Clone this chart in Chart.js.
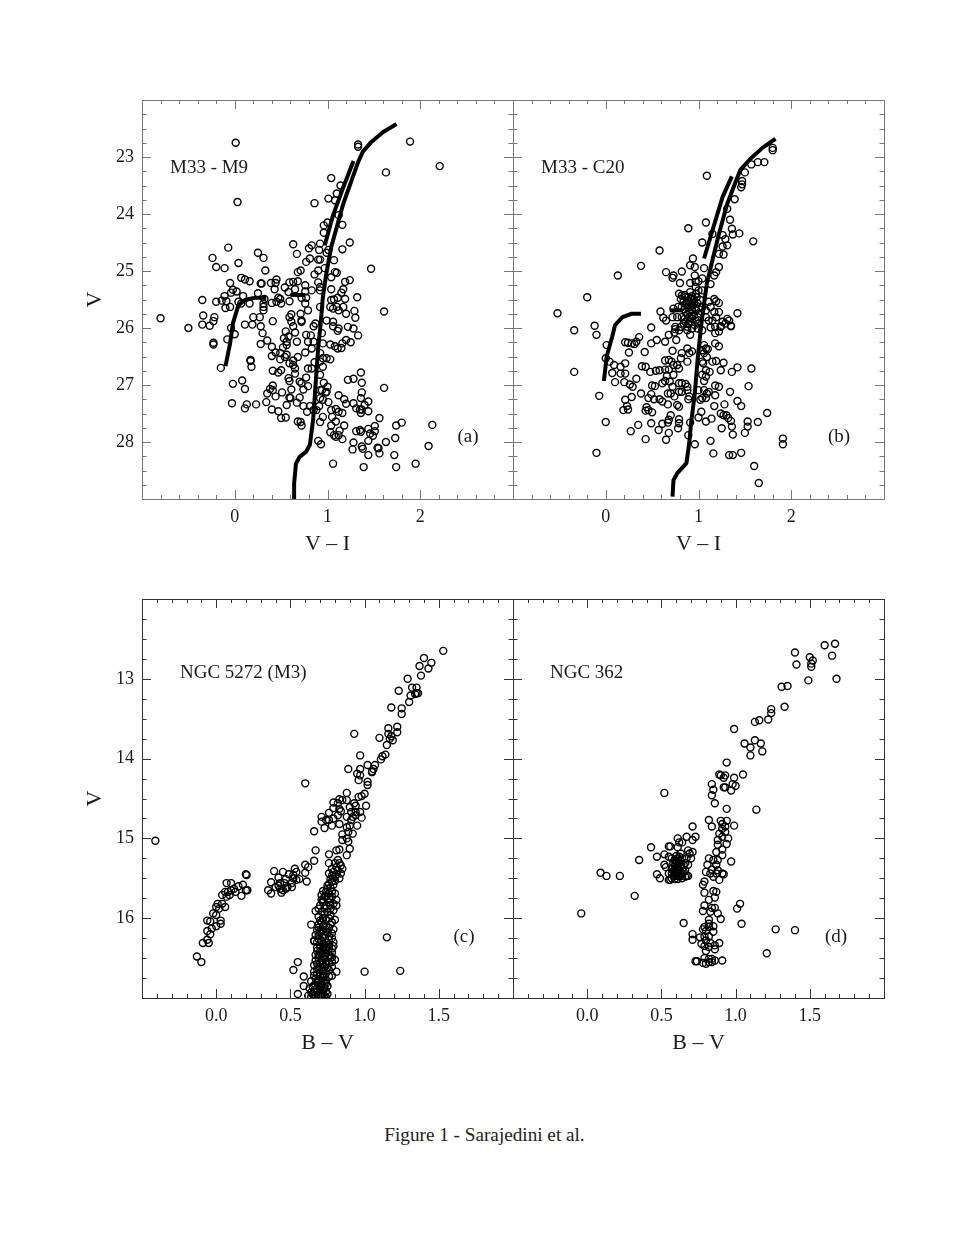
<!DOCTYPE html>
<html lang="en">
<head>
  <meta charset="UTF-8">
  <title>Figure 1 - Sarajedini et al.</title>
  <script src="https://cdn.jsdelivr.net/npm/chart.js"></script>
  <style>
    body { margin: 0; background: #fff; width: 969px; height: 1254px; position: relative; overflow: hidden; }
    canvas { position: absolute; }
    #caption {
      position: absolute; left: 0; width: 969px; top: 1124px; text-align: center;
      font: 19.2px "Liberation Serif", serif; color: #222;
    }
  </style>
</head>
<body>
  <canvas id="panelA" width="444" height="467" style="left:70px;top:90px"></canvas>
  <canvas id="panelB" width="382" height="467" style="left:503px;top:90px"></canvas>
  <canvas id="panelC" width="444" height="467" style="left:70px;top:589px"></canvas>
  <canvas id="panelD" width="382" height="467" style="left:503px;top:589px"></canvas>
  <div id="caption">Figure 1 - Sarajedini et al.</div>

  <script>
    // tick labels
    const xTicksVI = [0, 1, 2];
    const yTicksM33 = [23, 24, 25, 26, 27, 28];
    const xTicksBV = [0, 0.5, 1, 1.5];
    const yTicksGlob = [13, 14, 15, 16];

    // isochrone pieces, [colour, magnitude]
    const m9Rgb = [[1.745,22.42],[1.60,22.56],[1.47,22.74],[1.38,22.91],[1.33,23.09],[1.26,23.41],[1.17,23.82],[1.10,24.23],[1.04,24.58],[0.99,25.02],[0.95,25.46],[0.925,25.95],[0.90,26.33],[0.87,27.03],[0.845,27.61],[0.81,28.05],[0.77,28.17],[0.70,28.26],[0.66,28.38],[0.64,28.73],[0.64,29.0]];
    const m9Agb = [[1.28,23.07],[1.17,23.53],[1.06,24.02],[0.97,24.55]];
    const m9Hb = [[0.34,25.47],[0.22,25.47],[0.11,25.51],[0.04,25.60],[-0.02,25.92],[-0.05,26.27],[-0.10,26.67]];
    const m9Rhb = [[0.60,25.42],[0.76,25.42]];

    const c20Rgb = [[1.83,22.68],[1.69,22.84],[1.56,23.03],[1.45,23.23],[1.40,23.44],[1.31,23.82],[1.22,24.35],[1.15,24.81],[1.09,25.22],[1.04,25.81],[1.02,26.09],[0.99,26.56],[0.96,27.15],[0.92,27.67],[0.90,28.02],[0.87,28.37],[0.77,28.55],[0.73,28.67],[0.72,28.96]];
    const c20Agb = [[1.36,23.34],[1.26,23.70],[1.15,24.29],[1.06,24.78]];
    const c20Hb = [[0.38,25.75],[0.28,25.75],[0.18,25.81],[0.10,25.95],[0.07,26.15],[0.01,26.50],[-0.02,26.93]];
    const c20Rhb = [[0.69,25.69],[0.83,25.69]];

    // stars, [colour, magnitude]
    const m9Stars = [
      [0.01,22.75],[1.33,22.78],[1.33,22.82],[1.89,22.73],[2.21,23.16],[1.63,23.27],[1.04,23.37],[1.14,23.50],[1.10,23.64],[1.01,23.73],
      [1.08,23.76],[0.86,23.81],[0.03,23.79],[0.96,24.20],[1.00,24.15],[1.16,24.19],[0.96,24.33],[1.12,24.02],[1.24,24.50],[0.63,24.53],
      [0.83,24.55],[0.80,24.60],[0.92,24.52],[0.91,24.63],[1.01,24.63],[0.99,24.68],[1.16,24.62],[-0.07,24.59],[0.25,24.68],[0.31,24.77],
      [-0.24,24.77],[-0.20,24.93],[-0.11,24.95],[0.04,24.86],[0.67,24.70],[0.81,24.78],[0.77,24.84],[0.90,24.80],[0.92,24.80],[1.07,24.81],
      [0.97,24.95],[1.47,24.96],[0.33,24.99],[0.71,24.99],[0.68,25.02],[0.90,24.99],[0.86,25.06],[1.08,25.02],[1.10,25.03],[0.07,25.12],
      [0.11,25.15],[0.16,25.18],[-0.05,25.21],[0.29,25.22],[0.28,25.22],[0.39,25.21],[0.45,25.15],[0.44,25.21],[0.43,25.32],[0.54,25.29],
      [0.59,25.20],[0.63,25.19],[0.68,25.18],[0.65,25.32],[0.76,25.25],[0.90,25.20],[1.04,25.11],[1.19,25.19],[1.24,25.16],[1.17,25.32],
      [1.04,25.32],[0.92,25.28],[0.92,25.34],[0.83,25.34],[0.76,25.36],[0.58,25.37],[1.15,25.38],[1.11,25.47],[1.19,25.49],[1.32,25.46],
      [-0.02,25.33],[0.02,25.36],[-0.04,25.38],[-0.11,25.44],[0.09,25.44],[0.25,25.39],[-0.09,25.53],[-0.20,25.54],[-0.14,25.52],[-0.35,25.51],
      [-0.05,25.63],[-0.10,25.65],[0.04,25.54],[0.07,25.57],[0.16,25.57],[0.32,25.49],[0.31,25.57],[0.31,25.63],[0.31,25.69],[0.40,25.56],
      [0.45,25.54],[0.47,25.47],[0.50,25.57],[0.49,25.49],[0.59,25.53],[0.72,25.47],[0.77,25.47],[0.76,25.57],[0.79,25.69],[0.92,25.63],
      [1.04,25.51],[1.07,25.50],[1.03,25.63],[1.06,25.66],[1.10,25.63],[1.12,25.69],[1.17,25.63],[1.20,25.75],[1.29,25.70],[1.30,25.82],
      [1.61,25.71],[-0.34,25.78],[-0.22,25.81],[-0.23,25.88],[-0.27,25.96],[-0.35,25.94],[-0.80,25.83],[-0.50,26.00],[0.11,25.94],[0.19,25.94],
      [0.28,25.97],[0.20,25.81],[0.27,25.81],[0.41,25.88],[0.59,25.81],[0.61,25.76],[0.61,25.89],[0.63,25.97],[0.71,25.75],[0.72,25.89],
      [0.72,25.87],[0.85,25.97],[0.87,25.92],[0.99,25.87],[1.06,25.89],[1.06,25.97],[1.12,26.01],[1.22,25.98],[1.28,26.01],[-0.04,26.00],
      [0.00,26.11],[-0.08,26.20],[0.30,26.09],[-0.23,26.26],[-0.23,26.29],[0.28,26.28],[0.35,26.22],[0.40,26.33],[0.44,26.43],[0.40,26.49],
      [0.49,26.44],[0.56,26.47],[0.54,26.51],[0.49,26.55],[0.55,26.06],[0.53,26.18],[0.58,26.15],[0.56,26.24],[0.56,26.30],[0.52,26.34],
      [0.65,26.08],[0.67,26.24],[0.77,26.12],[0.82,26.13],[0.79,26.24],[0.85,26.24],[0.83,26.36],[0.76,26.43],[0.95,26.27],[1.03,26.29],
      [1.08,26.32],[1.11,26.36],[1.15,26.35],[1.16,26.27],[1.20,26.21],[1.25,26.25],[1.33,26.13],[1.11,26.05],[0.94,26.09],[0.92,26.44],
      [0.95,26.53],[0.99,26.53],[1.03,26.55],[0.68,26.51],[0.63,26.57],[0.59,26.62],[0.63,26.65],[0.41,26.75],[0.47,26.78],[0.50,26.74],
      [0.17,26.56],[0.17,26.58],[0.18,26.68],[-0.15,26.70],[0.65,26.71],[0.79,26.71],[0.83,26.71],[0.86,26.60],[0.92,26.59],[0.95,26.68],
      [0.92,26.82],[0.65,26.80],[0.77,26.87],[0.58,26.88],[0.59,26.93],[0.70,26.94],[0.72,26.97],[0.79,27.02],[0.96,26.96],[1.00,27.03],
      [1.36,26.78],[1.22,26.91],[1.28,26.89],[1.37,26.96],[1.61,27.05],[0.08,26.92],[-0.02,26.98],[0.11,27.07],[0.41,27.01],[0.38,27.07],
      [0.41,27.09],[0.35,27.15],[0.44,27.20],[0.51,27.13],[0.61,27.08],[0.74,27.08],[0.59,27.22],[0.60,27.23],[0.70,27.22],[0.67,27.31],
      [0.92,27.09],[0.94,27.09],[0.98,27.13],[0.99,27.12],[0.92,27.23],[0.95,27.26],[1.01,27.30],[1.12,27.18],[1.18,27.25],[1.20,27.33],
      [1.28,27.32],[1.37,27.13],[1.36,27.23],[1.44,27.29],[-0.03,27.32],[0.13,27.34],[0.11,27.41],[0.23,27.34],[0.34,27.30],[0.40,27.43],
      [0.47,27.46],[0.50,27.58],[0.55,27.57],[0.56,27.35],[0.74,27.37],[0.78,27.47],[0.81,27.37],[0.85,27.44],[0.88,27.44],[0.91,27.37],
      [1.04,27.44],[1.09,27.42],[1.12,27.47],[1.16,27.49],[1.31,27.41],[1.35,27.43],[1.37,27.43],[1.40,27.35],[1.36,27.49],[1.44,27.46],
      [1.05,27.56],[0.95,27.56],[0.68,27.64],[0.71,27.65],[0.72,27.71],[0.92,27.65],[1.09,27.64],[1.04,27.71],[1.18,27.71],[1.13,27.80],
      [1.03,27.83],[1.07,27.88],[1.09,27.91],[1.12,27.88],[1.16,27.95],[1.31,27.81],[1.35,27.79],[1.36,27.82],[1.56,27.58],[1.51,27.72],
      [1.74,27.71],[1.80,27.66],[2.13,27.70],[1.44,27.77],[1.46,27.85],[1.51,27.81],[1.49,27.89],[1.73,27.93],[1.63,28.00],[1.44,27.98],
      [1.28,28.01],[0.90,27.98],[0.93,28.04],[1.37,28.08],[1.38,28.12],[1.27,28.13],[1.54,28.10],[1.55,28.11],[1.56,28.20],[1.44,28.23],
      [1.72,28.23],[2.09,28.07],[1.06,28.38],[1.39,28.44],[1.74,28.44],[1.95,28.38]
    ];

    const c20Stars = [
      [1.09,23.33],[1.80,22.84],[1.80,22.88],[1.71,23.09],[1.64,23.09],[1.57,23.13],[1.50,23.27],[1.47,23.42],[1.47,23.48],[1.46,23.53],
      [1.39,23.74],[1.31,23.91],[1.34,24.10],[1.08,24.15],[1.36,24.26],[1.44,24.34],[1.37,24.36],[0.89,24.25],[1.26,24.37],[1.29,24.44],
      [1.31,24.55],[1.26,24.57],[1.27,24.71],[1.22,24.70],[1.59,24.48],[1.04,24.50],[1.15,24.35],[0.58,24.64],[0.38,24.91],[0.13,25.08],
      [-0.20,25.46],[-0.52,25.74],[0.94,24.78],[0.91,24.90],[0.96,24.93],[1.06,24.95],[1.22,24.93],[1.19,25.02],[1.17,25.08],[0.82,25.01],
      [0.65,25.02],[0.73,25.08],[0.72,25.12],[0.80,25.21],[0.96,25.08],[0.91,25.21],[0.97,25.19],[1.00,25.18],[1.04,25.13],[1.13,25.23],
      [0.79,25.40],[0.82,25.43],[0.86,25.46],[0.81,25.49],[0.89,25.46],[0.84,25.53],[0.90,25.54],[0.93,25.49],[0.97,25.40],[1.00,25.34],
      [0.97,25.28],[0.91,25.37],[1.04,25.34],[0.88,25.63],[0.91,25.63],[0.95,25.57],[0.99,25.57],[1.02,25.51],[0.82,25.63],[0.78,25.63],
      [0.73,25.66],[0.86,25.72],[0.91,25.72],[0.97,25.69],[1.00,25.66],[1.04,25.63],[0.90,25.81],[0.95,25.78],[0.99,25.81],[1.02,25.75],
      [0.82,25.81],[0.77,25.81],[0.72,25.81],[0.86,25.89],[0.91,25.89],[0.97,25.87],[1.00,25.92],[0.81,25.98],[0.75,25.98],[0.88,25.98],
      [0.93,26.01],[0.99,26.01],[1.04,26.04],[1.17,25.49],[1.19,25.53],[1.22,25.56],[1.11,25.54],[1.13,25.63],[1.08,25.69],[1.17,25.72],
      [1.22,25.72],[1.15,25.87],[1.11,25.87],[1.19,25.81],[1.26,25.89],[1.31,25.84],[1.42,25.74],[1.33,25.87],[1.35,25.97],[1.24,25.98],
      [1.18,25.98],[1.13,25.99],[1.08,25.81],[0.59,25.71],[0.62,25.82],[0.65,25.87],[0.49,25.99],[-0.34,26.04],[-0.12,25.96],[-0.10,26.12],
      [0.36,26.16],[0.33,26.24],[0.31,26.28],[0.28,26.27],[0.24,26.26],[0.21,26.25],[0.25,26.43],[0.42,26.42],[0.49,26.27],[0.55,26.21],
      [0.64,26.24],[0.68,26.12],[0.74,26.08],[0.76,26.21],[0.75,26.02],[0.79,26.04],[0.88,26.04],[0.91,26.12],[0.72,26.40],[0.82,26.44],
      [0.88,26.36],[0.90,26.44],[0.81,26.53],[0.88,26.59],[0.93,26.41],[1.06,26.30],[1.08,26.36],[1.04,26.39],[1.10,26.37],[1.06,26.44],
      [1.09,26.51],[1.04,26.59],[1.18,26.27],[1.22,26.32],[1.18,26.09],[1.22,26.06],[1.24,25.97],[1.35,25.96],[1.29,25.92],[1.15,26.59],
      [1.19,26.58],[1.27,26.61],[1.12,26.77],[1.24,26.74],[1.36,26.77],[1.42,26.69],[1.57,26.71],[1.05,26.62],[1.08,26.74],[1.04,26.82],
      [1.06,26.93],[1.08,26.85],[0.64,26.57],[0.68,26.56],[0.71,26.59],[0.73,26.65],[0.77,26.65],[0.79,26.71],[0.39,26.67],[0.43,26.68],
      [0.48,26.77],[0.54,26.75],[0.58,26.74],[0.64,26.73],[0.68,26.73],[0.73,26.82],[0.66,26.84],[0.21,26.62],[0.16,26.68],[0.09,26.65],
      [-0.34,26.77],[0.01,26.30],[0.00,26.53],[0.04,26.59],[0.07,26.79],[0.16,26.80],[0.21,26.80],[0.10,26.95],[0.20,26.95],[0.26,26.99],
      [0.29,27.03],[0.33,26.89],[-0.07,27.19],[0.00,27.65],[-0.10,28.19],[0.38,27.15],[0.28,27.21],[0.21,27.26],[0.50,27.01],[0.53,27.02],
      [0.61,26.97],[0.64,26.93],[0.69,26.94],[0.72,27.03],[0.79,26.97],[0.82,26.97],[0.86,26.98],[0.88,27.03],[0.82,27.12],[0.79,27.12],
      [0.70,27.15],[0.74,27.20],[0.88,27.09],[0.67,27.15],[0.49,27.16],[0.46,27.23],[0.52,27.25],[0.58,27.25],[0.61,27.29],[0.67,27.34],
      [0.77,27.35],[0.79,27.38],[0.90,27.20],[0.89,27.25],[1.00,27.09],[1.06,27.09],[1.09,27.15],[1.04,27.23],[1.08,27.23],[1.02,27.26],
      [1.11,27.12],[1.18,27.18],[1.18,27.01],[1.22,27.03],[1.34,27.12],[1.54,27.02],[1.42,27.28],[1.46,27.37],[1.28,27.34],[1.17,27.37],
      [1.24,27.50],[1.27,27.53],[1.30,27.53],[1.32,27.58],[1.35,27.63],[1.74,27.49],[1.64,27.65],[1.53,27.64],[1.53,27.73],[1.36,27.73],
      [1.37,27.87],[1.50,27.84],[1.25,27.76],[1.03,27.47],[1.00,27.57],[1.08,27.64],[1.14,27.59],[0.23,27.37],[0.24,27.43],[0.19,27.44],
      [0.44,27.39],[0.43,27.45],[0.46,27.44],[0.50,27.48],[0.70,27.53],[0.68,27.61],[0.67,27.66],[0.79,27.60],[0.79,27.67],[0.78,27.76],
      [0.91,27.66],[0.89,27.88],[0.49,27.67],[0.35,27.70],[0.27,27.81],[0.43,27.95],[0.61,27.68],[0.57,27.79],[0.68,27.84],[0.65,27.96],
      [0.96,28.04],[1.13,27.98],[1.16,28.20],[1.33,28.23],[1.37,28.23],[1.46,28.19],[1.91,27.94],[1.91,28.04],[1.60,28.42],[1.65,28.72],
      [0.85,25.42],[0.93,25.44],[0.88,25.52],[0.95,25.50],[0.87,25.58],[0.93,25.60],[0.85,25.67],[0.93,25.68],[0.88,25.76],[0.93,25.79],
      [0.85,25.84],[0.93,25.84],[0.89,25.93],[0.96,25.95],[0.84,25.92],[0.93,25.56],[0.98,25.46],[0.96,25.64]
    ];

    const m3Stars = [
      [1.53,12.65],[1.40,12.74],[1.45,12.80],[1.37,12.84],[1.43,12.87],[1.38,12.96],[1.29,13.00],[1.23,13.15],[1.32,13.11],[1.35,13.11],
      [1.31,13.21],[1.34,13.19],[1.35,13.18],[1.36,13.18],[1.30,13.29],[1.18,13.36],[1.25,13.37],[1.25,13.44],[1.22,13.60],[1.22,13.67],
      [1.16,13.62],[1.16,13.69],[1.18,13.72],[1.17,13.75],[1.19,13.77],[1.10,13.74],[1.15,13.83],[0.93,13.69],[1.14,13.95],[1.12,13.97],
      [1.11,14.01],[0.97,13.96],[1.02,14.08],[1.07,14.08],[1.06,14.13],[1.05,14.17],[1.05,14.16],[0.89,14.13],[0.97,14.13],[0.95,14.19],
      [0.97,14.21],[0.96,14.27],[1.02,14.29],[1.02,14.33],[0.60,14.31],[1.00,14.44],[0.98,14.47],[0.96,14.48],[0.88,14.43],[0.83,14.51],
      [0.85,14.52],[0.88,14.52],[0.79,14.55],[0.79,14.62],[0.82,14.56],[0.83,14.63],[0.84,14.66],[0.90,14.61],[0.93,14.56],[0.94,14.59],
      [0.91,14.67],[0.94,14.67],[0.97,14.67],[1.01,14.59],[0.76,14.68],[0.82,14.71],[0.88,14.73],[0.92,14.73],[0.94,14.71],[0.98,14.74],
      [0.71,14.73],[0.71,14.79],[0.74,14.77],[0.76,14.77],[0.79,14.75],[0.73,14.87],[0.78,14.84],[0.83,14.82],[0.88,14.86],[0.91,14.77],
      [0.95,14.84],[0.90,14.84],[0.66,14.91],[0.92,14.94],[0.89,14.92],[0.85,14.95],[0.88,15.00],[0.85,15.02],[0.89,15.04],[0.90,15.13],
      [0.88,15.21],[0.83,15.14],[0.81,15.15],[-0.41,15.03],[0.67,15.15],[0.66,15.28],[0.76,15.20],[0.76,15.31],[0.60,15.33],[0.62,15.36],
      [0.60,15.43],[0.61,15.54],[0.80,15.31],[0.83,15.31],[0.85,15.38],[0.82,15.40],[0.79,15.42],[0.76,15.44],[0.80,15.48],[0.83,15.50],
      [0.78,15.54],[0.75,15.59],[0.74,15.67],[0.78,15.67],[0.80,15.69],[0.73,15.73],[0.76,15.75],[0.81,15.77],[0.79,15.82],[0.71,15.77],
      [0.70,15.84],[0.74,15.84],[0.81,15.84],[0.67,15.91],[0.71,15.92],[0.75,15.92],[0.79,15.90],[0.72,16.00],[0.76,16.00],[0.80,16.02],
      [0.71,16.05],[0.74,16.09],[0.64,16.08],[0.79,16.14],[0.74,16.17],[0.70,16.19],[0.67,16.21],[0.73,16.21],[0.76,16.23],[0.71,16.28],
      [0.66,16.28],[0.66,16.29],[0.74,16.30],[0.79,16.30],[0.70,16.36],[0.74,16.36],[0.78,16.38],[0.67,16.46],[0.71,16.44],[0.74,16.44],
      [0.80,16.52],[0.78,16.49],[0.67,16.53],[0.71,16.53],[0.74,16.55],[0.66,16.59],[0.70,16.61],[0.73,16.61],[0.78,16.61],[0.81,16.67],
      [0.78,16.72],[0.66,16.67],[0.70,16.72],[0.74,16.69],[0.67,16.76],[0.71,16.78],[0.74,16.78],[0.64,16.79],[0.66,16.84],[0.70,16.84],
      [0.75,16.85],[0.63,16.88],[0.62,16.97],[0.65,16.95],[0.69,16.95],[0.72,16.95],[0.75,16.95],[0.64,16.99],[0.67,16.99],[0.71,16.99],
      [0.74,16.99],[0.72,15.80],[0.77,15.88],[0.69,16.12],[0.72,16.15],[0.76,16.12],[0.69,16.26],[0.76,16.33],[0.68,16.41],[0.72,16.48],
      [0.76,16.46],[0.69,16.50],[0.68,16.57],[0.72,16.58],[0.76,16.56],[0.68,16.64],[0.72,16.66],[0.76,16.65],[0.68,16.70],[0.72,16.74],
      [0.69,16.80],[0.73,16.82],[0.68,16.88],[0.71,16.90],[0.66,16.92],[0.73,16.88],
      [0.39,15.41],[0.45,15.42],[0.37,15.55],[0.35,15.65],[0.37,15.69],[0.42,15.49],[0.47,15.51],[0.49,15.45],[0.53,15.38],[0.54,15.42],
      [0.52,15.46],[0.52,15.50],[0.56,15.51],[0.54,15.52],[0.51,15.56],[0.47,15.63],[0.45,15.65],[0.44,15.68],[0.43,15.63],[0.42,15.59],
      [0.40,15.61],[0.43,15.56],[0.46,15.56],[0.48,15.61],[0.51,15.61],[0.20,15.45],[0.205,15.46],[0.07,15.56],[0.10,15.56],[0.18,15.58],
      [0.15,15.60],[0.12,15.63],[0.10,15.65],[0.08,15.67],[0.06,15.67],[0.04,15.71],[0.07,15.73],[0.09,15.71],[0.13,15.67],[0.17,15.72],
      [0.20,15.65],[0.21,15.65],[0.01,15.82],[0.00,15.86],[0.04,15.82],[0.02,15.88],[0.06,15.86],[-0.02,15.94],[0.00,15.96],[0.03,16.03],
      [0.03,16.07],[0.00,16.10],[-0.06,16.03],[-0.04,16.04],[-0.03,16.13],[-0.06,16.16],[-0.04,16.20],[-0.06,16.27],[-0.09,16.31],[-0.05,16.31],
      [-0.13,16.48],[-0.10,16.55],[0.55,16.55],[0.52,16.65],[0.59,16.73],[0.59,16.85],[0.55,16.95],[1.00,16.67],[1.24,16.66],[1.15,16.24],
      // dense lower giant branch
      [0.82,15.27],[0.84,15.34],[0.81,15.36],[0.78,15.38],[0.84,15.44],[0.81,15.45],[0.78,15.47],[0.77,15.51],[0.80,15.53],[0.76,15.57],
      [0.79,15.58],[0.77,15.62],[0.75,15.63],[0.72,15.66],[0.76,15.69],[0.71,15.71],[0.74,15.73],[0.78,15.73],[0.72,15.78],[0.76,15.80],
      [0.69,15.88],[0.73,15.88],[0.77,15.84],[0.73,15.95],[0.69,15.98],[0.77,15.96],[0.70,16.03],[0.74,16.02],[0.78,16.05],[0.69,16.08],
      [0.72,16.10],[0.77,16.08],[0.68,16.15],[0.71,16.14],[0.75,16.18],[0.78,16.19],[0.69,16.22],[0.72,16.24],[0.78,16.25],[0.68,16.30],
      [0.72,16.32],[0.76,16.27],[0.79,16.35],[0.68,16.37],[0.72,16.38],[0.76,16.38],[0.70,16.42],[0.74,16.40],[0.78,16.43],[0.69,16.46],
      [0.73,16.47],[0.77,16.50],[0.70,16.56],[0.74,16.58],[0.78,16.55],[0.69,16.63],[0.71,16.66],[0.75,16.62],[0.66,16.72],[0.69,16.76],
      [0.73,16.72],[0.76,16.73],[0.68,16.81],[0.71,16.83],[0.74,16.82],[0.65,16.86],[0.68,16.92],[0.71,16.94],[0.74,16.92],[0.64,16.93],
      [0.66,16.97],[0.69,16.98],[0.73,16.97],[0.70,16.87],[0.72,16.70],[0.70,16.47],[0.73,16.34],[0.70,16.16]
    ];

    const ngc362Stars = [
      [1.67,12.56],[1.60,12.58],[1.65,12.71],[1.40,12.67],[1.41,12.82],[1.50,12.73],[1.52,12.77],[1.51,12.81],[1.51,12.85],[1.49,13.02],
      [1.68,13.00],[1.35,13.09],[1.31,13.10],[1.33,13.35],[1.24,13.38],[1.24,13.43],[1.22,13.51],[1.13,13.54],[1.16,13.52],[0.99,13.63],
      [1.13,13.77],[1.06,13.81],[1.17,13.81],[1.10,13.86],[1.18,13.91],[1.10,13.96],[0.94,14.05],[1.05,14.20],[0.89,14.20],[0.90,14.21],
      [0.93,14.21],[0.92,14.24],[0.99,14.24],[0.84,14.32],[0.85,14.39],[0.84,14.46],[0.86,14.56],[0.93,14.36],[0.92,14.36],[0.98,14.32],
      [1.00,14.34],[0.97,14.40],[0.52,14.43],[0.94,14.63],[1.14,14.64],[0.82,14.77],[0.84,14.85],[0.90,14.78],[0.94,14.78],[0.91,14.82],
      [0.93,14.85],[0.99,14.84],[0.91,14.88],[0.71,14.85],[0.89,14.94],[0.93,14.92],[0.91,14.98],[0.95,15.00],[0.88,15.02],[0.94,15.07],
      [0.88,15.08],[0.91,15.14],[0.87,15.17],[0.91,15.21],[0.97,15.29],[0.82,15.25],[0.81,15.33],[0.80,15.42],[0.85,15.27],[0.88,15.27],
      [0.87,15.33],[0.84,15.39],[0.88,15.40],[0.91,15.44],[0.92,15.45],[0.85,15.48],[0.89,15.52],[0.87,15.44],[0.83,15.44],[0.79,15.54],
      [0.78,15.58],[0.79,15.68],[0.85,15.66],[0.87,15.67],[0.86,15.74],[0.82,15.77],[0.79,15.84],[0.78,15.91],[0.83,15.92],[0.84,15.87],
      [0.86,15.87],[0.88,15.94],[0.90,16.01],[0.82,16.02],[0.82,16.07],[0.79,16.11],[0.82,16.11],[0.85,16.10],[0.78,16.14],[0.85,16.17],
      [0.80,16.16],[0.76,16.24],[0.79,16.23],[0.82,16.23],[0.80,16.28],[0.77,16.32],[0.83,16.31],[0.79,16.35],[0.82,16.36],[0.86,16.34],
      [0.89,16.31],[0.86,16.39],[0.80,16.41],[0.79,16.50],[0.82,16.51],[0.84,16.51],[0.86,16.53],[0.91,16.53],[0.73,16.54],[0.74,16.54],
      [0.78,16.56],[0.80,16.57],[0.82,16.55],[0.84,16.55],[0.71,16.20],[0.71,16.27],[0.65,16.06],[-0.04,15.94],[1.04,16.07],[1.03,15.82],
      [1.01,15.88],[1.27,16.14],[1.40,16.15],[1.21,16.44],[0.09,15.43],[0.13,15.47],[0.22,15.47],[0.35,15.27],[0.32,15.72],[0.43,15.11],
      [0.47,15.23],[0.47,15.45],[0.49,15.50],[0.52,15.20],[0.55,15.10],[0.56,15.10],[0.55,15.23],[0.61,15.00],[0.67,14.98],[0.64,15.05],
      [0.62,15.05],[0.73,14.98],[0.71,15.02],[0.61,15.11],[0.63,15.19],[0.68,15.15],[0.69,15.19],[0.71,15.17],[0.70,15.25],[0.67,15.25],
      [0.68,15.33],[0.66,15.31],[0.52,15.33],[0.53,15.36],[0.55,15.44],[0.55,15.52],[0.57,15.25],[0.59,15.27],[0.61,15.25],[0.64,15.25],
      [0.58,15.31],[0.60,15.31],[0.62,15.31],[0.65,15.33],[0.57,15.38],[0.59,15.38],[0.61,15.38],[0.64,15.38],[0.66,15.40],[0.57,15.44],
      [0.59,15.44],[0.61,15.44],[0.64,15.44],[0.67,15.47],[0.68,15.47],[0.57,15.50],[0.59,15.51],[0.61,15.51],[0.64,15.50],[0.66,15.48],
      [0.56,15.52],[0.60,15.28],[0.63,15.29],[0.59,15.34],[0.61,15.35],[0.63,15.35],[0.58,15.41],[0.60,15.41],[0.62,15.41],[0.65,15.42],
      [0.58,15.47],[0.60,15.47],[0.62,15.47],[0.64,15.47],[0.60,15.22],[0.62,15.23]
    ];

    const toXY = pts => pts.map(p => ({ x: p[0], y: p[1] }));

    function lineSet(pts) {
      return { data: toXY(pts), showLine: true, borderColor: '#000', borderWidth: 4, pointRadius: 0, fill: false, borderCapStyle: 'butt', borderJoinStyle: 'round' };
    }
    function starSet(pts) {
      return { data: toXY(pts), showLine: false, pointRadius: 3.5, pointBorderWidth: 1.4, pointBorderColor: '#000', pointBackgroundColor: 'rgba(0,0,0,0)' };
    }

    // frame, inward ticks and the small labels inside each panel
    const framePlugin = {
      id: 'frame',
      afterDraw(chart, args, o) {
        const c = chart.ctx, a = chart.chartArea, sx = chart.scales.x, sy = chart.scales.y;
        c.save();
        c.strokeStyle = o.color;
        c.lineWidth = 1;
        c.strokeRect(a.left + 0.5, a.top + 0.5, a.right - a.left, a.bottom - a.top);
        c.beginPath();
        for (let i = 0; i <= Math.round((sx.max - sx.min) / o.xMinor); i++) {
          const v = +(sx.min + i * o.xMinor).toFixed(2);
          const px = Math.round(sx.getPixelForValue(v)) + 0.5;
          const len = o.xTicks.includes(v) ? 9 : 4;
          c.moveTo(px, a.top); c.lineTo(px, a.top + len);
          c.moveTo(px, a.bottom); c.lineTo(px, a.bottom - len);
        }
        for (let i = 0; i <= Math.round((sy.max - sy.min) / o.yMinor); i++) {
          const v = +(sy.min + i * o.yMinor).toFixed(2);
          const py = Math.round(sy.getPixelForValue(v)) + 0.5;
          const len = o.yTicks.includes(v) ? 9 : 4.5;
          c.moveTo(a.left, py); c.lineTo(a.left + len, py);
          c.moveTo(a.right, py); c.lineTo(a.right - len, py);
        }
        c.stroke();
        c.fillStyle = '#1a1a1a';
        c.font = '19px "Liberation Serif", serif';
        c.textBaseline = 'middle';
        c.textAlign = 'left';
        c.fillText(o.name, a.left + o.nameDx, a.top + o.nameDy);
        c.textAlign = 'center';
        c.fillText(o.tag, a.left + o.tagDx, a.top + o.tagDy);
        c.restore();
      }
    };

    // no margin from the tick labels, the plot box has to stay where it is
    function noPad(s) {
      s.paddingLeft = 0; s.paddingRight = 0; s.paddingTop = 0; s.paddingBottom = 0;
    }

    function makePanel(id, o) {
      return new Chart(document.getElementById(id), {
        type: 'scatter',
        data: { datasets: o.sets },
        plugins: [framePlugin],
        options: {
          responsive: false,
          animation: false,
          layout: { autoPadding: false, padding: { top: 10, right: 1, left: 0, bottom: 0 } },
          plugins: {
            legend: { display: false },
            tooltip: { enabled: false },
            frame: o
          },
          scales: {
            x: {
              type: 'linear', min: o.xMin, max: o.xMax,
              grid: { display: false, drawTicks: false }, border: { display: false },
              afterBuildTicks: s => { s.ticks = o.xTicks.map(v => ({ value: v })); },
              afterFit: s => { s.height = 58; noPad(s); },
              ticks: {
                padding: 7, maxRotation: 0, autoSkip: false, color: '#1a1a1a',
                font: { family: '"Liberation Serif", serif', size: 18 },
                callback: v => Number(v).toFixed(o.xDigits)
              },
              title: {
                display: true, text: o.xTitle, color: '#1a1a1a', padding: 0,
                font: { family: '"Liberation Serif", serif', size: 22 }
              }
            },
            y: {
              type: 'linear', reverse: true, min: o.yMin, max: o.yMax,
              grid: { display: false, drawTicks: false }, border: { display: false },
              afterBuildTicks: s => { s.ticks = o.yTicks.map(v => ({ value: v })); },
              afterFit: s => { s.width = o.leftGap; noPad(s); },
              ticks: {
                display: o.showY, padding: 8, autoSkip: false, color: '#1a1a1a',
                font: { family: '"Liberation Serif", serif', size: 18 }
              },
              title: {
                display: o.showY, text: 'V', color: '#1a1a1a', padding: { top: 12, bottom: 0 },
                font: { family: '"Liberation Serif", serif', size: 22 }
              }
            }
          }
        }
      });
    }

    const topPanel = { xMin: -1, xMax: 3, yMin: 22, yMax: 29, xMinor: 0.2, yMinor: 0.25, xTicks: xTicksVI, yTicks: yTicksM33, xTitle: 'V \u2013 I', xDigits: 0, color: '#777' };
    const lowPanel = { xMin: -0.5, xMax: 2, yMin: 12, yMax: 17, xMinor: 0.1, yMinor: 0.25, xTicks: xTicksBV, yTicks: yTicksGlob, xTitle: 'B \u2013 V', xDigits: 1, color: '#333' };

    makePanel('panelA', { ...topPanel, leftGap: 72, showY: true, name: 'M33 - M9', nameDx: 28, nameDy: 68, tag: '(a)', tagDx: 326, tagDy: 337,
      sets: [lineSet(m9Rgb), lineSet(m9Agb), lineSet(m9Hb), lineSet(m9Rhb), starSet(m9Stars)] });
    makePanel('panelB', { ...topPanel, leftGap: 10, showY: false, name: 'M33 - C20', nameDx: 28, nameDy: 68, tag: '(b)', tagDx: 326, tagDy: 337,
      sets: [lineSet(c20Rgb), lineSet(c20Agb), lineSet(c20Hb), lineSet(c20Rhb), starSet(c20Stars)] });
    makePanel('panelC', { ...lowPanel, leftGap: 72, showY: true, name: 'NGC 5272 (M3)', nameDx: 38, nameDy: 74, tag: '(c)', tagDx: 322, tagDy: 338,
      sets: [starSet(m3Stars)] });
    makePanel('panelD', { ...lowPanel, leftGap: 10, showY: false, name: 'NGC 362', nameDx: 37, nameDy: 74, tag: '(d)', tagDx: 323, tagDy: 338,
      sets: [starSet(ngc362Stars)] });
  </script>
</body>
</html>
